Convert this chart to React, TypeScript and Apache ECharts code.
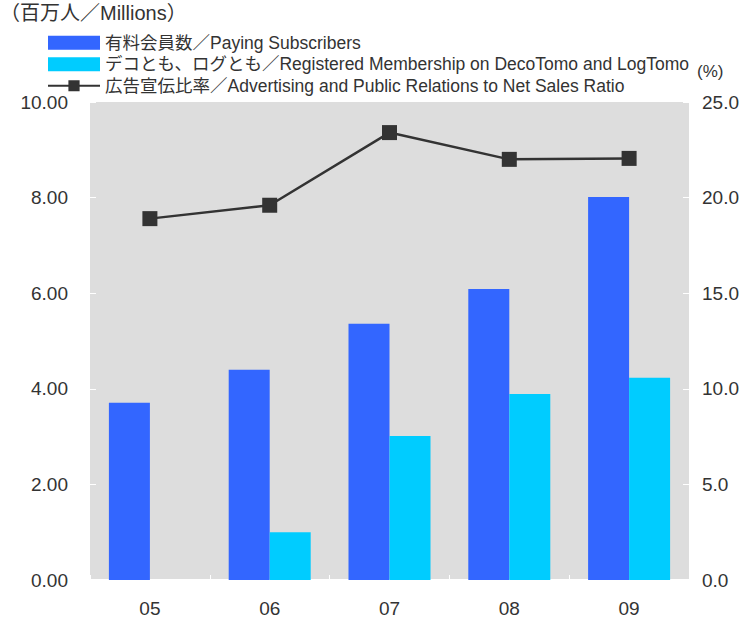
import React, { useEffect, useRef } from "react";
import * as echarts from "echarts";

const categories = ["05", "06", "07", "08", "09"];
const payingSubscribers = [3.71, 4.4, 5.36, 6.09, 8.01];
const registeredMembership = [null, 1.0, 3.01, 3.89, 4.23];
const adRatio = [18.9, 19.6, 23.4, 22.0, 22.05];

const leftTitle = "（百万人／Millions）";
const rightTitle = "(%)";
const seriesNames = [
  "有料会員数／Paying Subscribers",
  "デコとも、ログとも／Registered Membership on DecoTomo and LogTomo",
  "広告宣伝比率／Advertising and Public Relations to Net Sales Ratio",
];

const FONT = "'Liberation Sans', Arial, 'Noto Sans CJK JP', sans-serif";

export default function App() {
  const ref = useRef<HTMLDivElement>(null);
  useEffect(() => {
    document.body.style.margin = "0";
    const chart = echarts.init(ref.current!, null, { renderer: "svg" });
    chart.setOption({
      animation: false,
      backgroundColor: "#ffffff",
      textStyle: { fontFamily: FONT },
      graphic: [
        {
          type: "text",
          left: 0,
          top: 3,
          style: { text: leftTitle, font: `20px ${FONT}`, fill: "#333" },
        },
        {
          type: "text",
          left: 697,
          top: 63,
          style: { text: rightTitle, font: `17px ${FONT}`, fill: "#333" },
        },
      ],
      legend: {
        orient: "vertical",
        left: 47,
        top: 34,
        padding: 0,
        itemWidth: 52,
        itemHeight: 14,
        itemGap: 4,
        textStyle: { fontSize: 17.5, color: "#333", fontFamily: FONT },
        data: [
          { name: seriesNames[0], icon: "rect" },
          { name: seriesNames[1], icon: "rect" },
          { name: seriesNames[2] },
        ],
      },
      grid: { left: 90, right: 60, top: 102, bottom: 43, backgroundColor: "#dddddd", show: true, borderWidth: 0 },
      xAxis: {
        type: "category",
        data: categories,
        axisLine: { lineStyle: { color: "#ffffff", width: 2 } },
        axisTick: { show: true, inside: true, length: 5, lineStyle: { color: "#ffffff", width: 1 } },
        axisLabel: { fontSize: 19, color: "#333", margin: 19, fontFamily: FONT },
      },
      yAxis: [
        {
          type: "value",
          min: 0,
          max: 10,
          interval: 2,
          splitLine: { show: false },
          axisLine: { show: false },
          axisTick: { show: true, inside: true, length: 6, lineStyle: { color: "#ffffff" } },
          axisLabel: {
            fontSize: 19,
            color: "#333",
            margin: 22,
            fontFamily: FONT,
            formatter: (v: number) => v.toFixed(2),
          },
        },
        {
          type: "value",
          min: 0,
          max: 25,
          interval: 5,
          splitLine: { show: false },
          axisLine: { show: false },
          axisTick: { show: true, inside: true, length: 6, lineStyle: { color: "#ffffff" } },
          axisLabel: {
            fontSize: 19,
            color: "#333",
            margin: 13,
            fontFamily: FONT,
            formatter: (v: number) => v.toFixed(1),
          },
        },
      ],
      series: [
        {
          name: seriesNames[0],
          type: "bar",
          data: payingSubscribers,
          barWidth: 41,
          barGap: "0%",
          itemStyle: { color: "#3366ff" },
        },
        {
          name: seriesNames[1],
          type: "bar",
          data: registeredMembership,
          barWidth: 41,
          barGap: "0%",
          itemStyle: { color: "#00ccff" },
        },
        {
          name: seriesNames[2],
          type: "line",
          yAxisIndex: 1,
          data: adRatio,
          symbol: "rect",
          symbolSize: 15,
          lineStyle: { color: "#333333", width: 2.5 },
          itemStyle: { color: "#333333" },
        },
      ],
    });
    return () => chart.dispose();
  }, []);
  return <div ref={ref} style={{ width: 749, height: 623 }} />;
}
